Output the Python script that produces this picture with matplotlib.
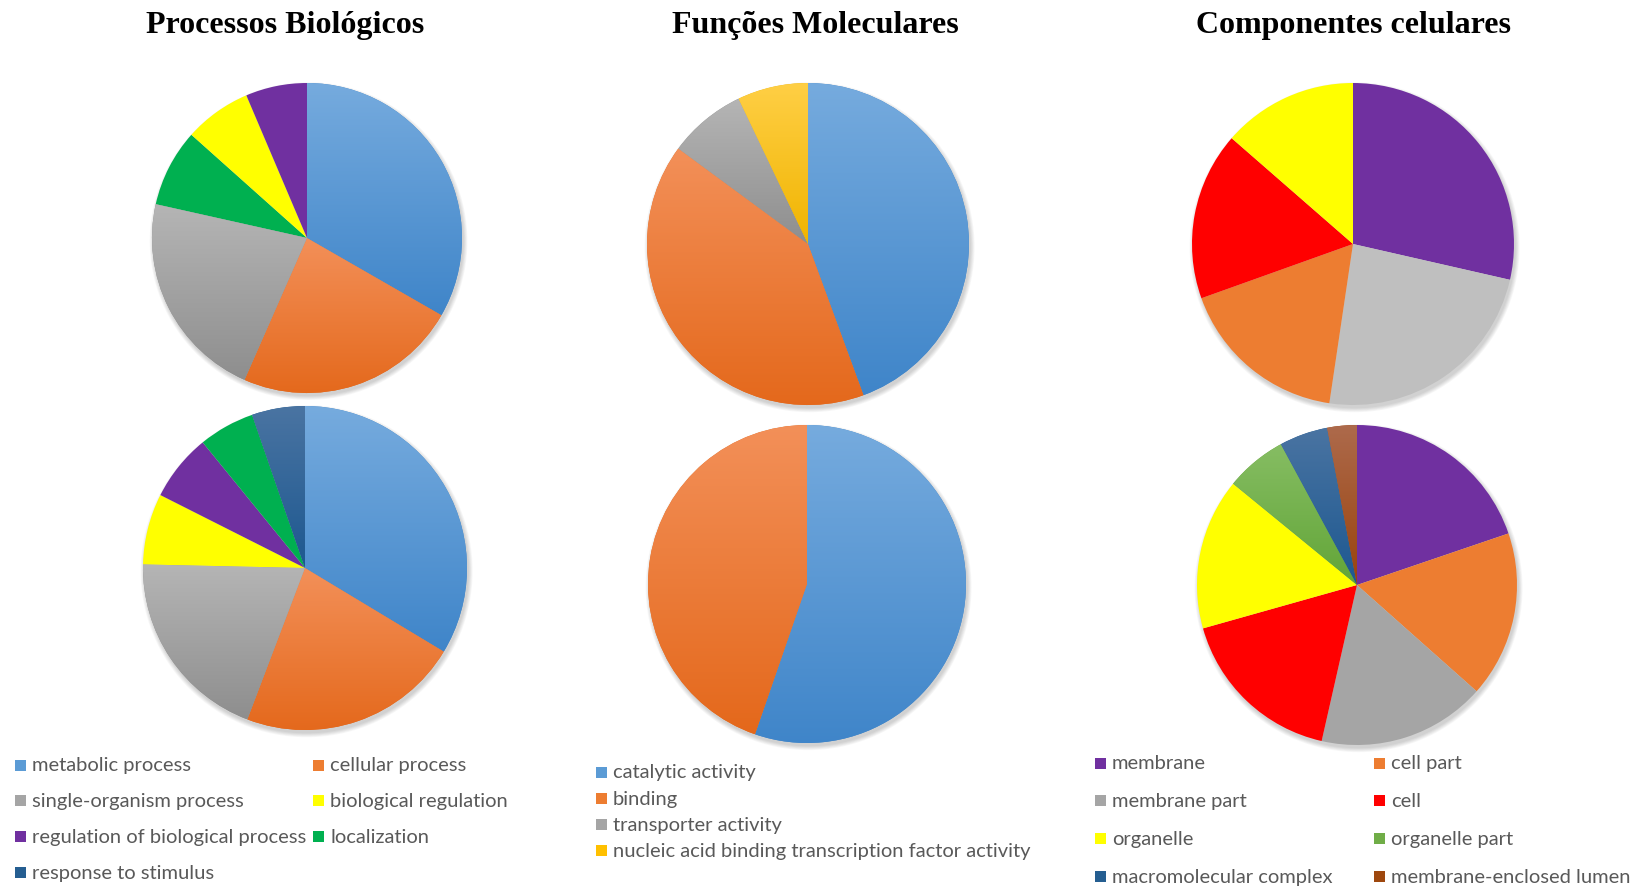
import numpy as np
import matplotlib.pyplot as plt
from matplotlib.patches import Rectangle, Circle
from matplotlib.colors import LinearSegmentedColormap

W, H = 1646, 887

# --- data (percent of annotated transcripts, clockwise from 12 o'clock) ---
bp_top_labels = ['metabolic process', 'cellular process', 'single-organism process',
                 'localization', 'biological regulation', 'regulation of biological process']
bp_top_values = [33.3, 23.3, 21.9, 8.1, 7.0, 6.4]

bp_bot_labels = ['metabolic process', 'cellular process', 'single-organism process',
                 'biological regulation', 'regulation of biological process',
                 'localization', 'response to stimulus']
bp_bot_values = [33.7, 22.2, 19.6, 7.1, 6.7, 5.6, 5.3]

mf_top_labels = ['catalytic activity', 'binding', 'transporter activity',
                 'nucleic acid binding transcription factor activity']
mf_top_values = [44.4, 40.7, 7.8, 7.1]

mf_bot_labels = ['catalytic activity', 'binding']
mf_bot_values = [55.3, 44.7]

cc_top_labels = ['membrane', 'membrane part', 'cell part', 'cell', 'organelle']
cc_top_values = [28.6, 23.8, 17.2, 16.9, 13.6]

cc_bot_labels = ['membrane', 'cell part', 'membrane part', 'cell', 'organelle',
                 'organelle part', 'macromolecular complex', 'membrane-enclosed lumen']
cc_bot_values = [19.8, 16.8, 17.0, 17.1, 15.3, 6.2, 4.9, 3.0]

bp_legend = ['metabolic process', 'cellular process', 'single-organism process',
             'biological regulation', 'regulation of biological process', 'localization',
             'response to stimulus']
mf_legend = ['catalytic activity', 'binding', 'transporter activity',
             'nucleic acid binding transcription factor activity']
cc_legend = ['membrane', 'cell part', 'membrane part', 'cell', 'organelle',
             'organelle part', 'macromolecular complex', 'membrane-enclosed lumen']

titles = ['Processos Biológicos', 'Funções Moleculares', 'Componentes celulares']

# fills: a tuple means a top->bottom gradient, a string a flat colour
fills = {
    'metabolic process': ('#76abde', '#3f85c9'),
    'cellular process': ('#f39059', '#e4681b'),
    'single-organism process': ('#b5b5b5', '#8e8e8e'),
    'biological regulation': '#ffff00',
    'regulation of biological process': '#7030a0',
    'localization': '#00b050',
    'response to stimulus': ('#4a74a2', '#1d5890'),
    'catalytic activity': ('#76abde', '#3f85c9'),
    'binding': ('#f39059', '#e4681b'),
    'transporter activity': ('#b5b5b5', '#8e8e8e'),
    'nucleic acid binding transcription factor activity': ('#ffcf45', '#f0b400'),
    'membrane': '#7030a0',
    'cell part': '#ed7d31',
    'cell': '#ff0000',
    'organelle': '#ffff00',
    'organelle part': ('#86bd63', '#62a537'),
    'macromolecular complex': ('#4a74a2', '#1d5890'),
    'membrane-enclosed lumen': ('#ad6a4c', '#9a430c'),
}
legend_colors = {
    'metabolic process': '#5b9bd5', 'cellular process': '#ed7d31',
    'single-organism process': '#a5a5a5', 'biological regulation': '#ffff00',
    'regulation of biological process': '#7030a0', 'localization': '#00b050',
    'response to stimulus': '#255e91',
    'catalytic activity': '#5b9bd5', 'binding': '#ed7d31',
    'transporter activity': '#a5a5a5',
    'nucleic acid binding transcription factor activity': '#ffc000',
    'membrane': '#7030a0', 'cell part': '#ed7d31', 'membrane part': '#a5a5a5',
    'cell': '#ff0000', 'organelle': '#ffff00', 'organelle part': '#70ad47',
    'macromolecular complex': '#255e91', 'membrane-enclosed lumen': '#9e480e',
}

fig = plt.figure(figsize=(W / 100, H / 100), dpi=100)
fig.patch.set_facecolor('white')


def shade(ax, wedge, top, bottom):
    verts = wedge.get_path().vertices
    x0, y0 = verts.min(axis=0)
    x1, y1 = verts.max(axis=0)
    cmap = LinearSegmentedColormap.from_list('g', [bottom, top])
    grad = np.linspace(0, 1, 256).reshape(-1, 1)
    im = ax.imshow(grad, cmap=cmap, extent=[x0, x1, y0, y1], origin='lower',
                   aspect='auto', zorder=wedge.get_zorder() + 0.1, interpolation='bilinear')
    im.set_clip_path(wedge)


def draw_pie(cx, cy, r, labels, values, gray='#a5a5a5'):
    pad = 1.12
    ax = fig.add_axes([(cx - r * pad) / W, 1 - (cy + r * pad) / H,
                       2 * r * pad / W, 2 * r * pad / H])
    # soft drop shadow
    for i in range(6):
        ax.add_patch(Circle((0.01, -0.02), 1.0 + 0.005 * i, color='k',
                            alpha=0.03, lw=0, zorder=0))
    cols = []
    for lab in labels:
        f = fills.get(lab, gray)
        cols.append(f if isinstance(f, str) else f[1])
    wedges, _ = ax.pie(values, colors=cols, startangle=90, counterclock=False,
                       radius=1, wedgeprops=dict(linewidth=0))
    for w, lab in zip(wedges, labels):
        f = fills.get(lab, gray)
        if not isinstance(f, str):
            shade(ax, w, f[0], f[1])
    ax.set_xlim(-pad, pad)
    ax.set_ylim(-pad, pad)
    ax.set_aspect('auto')
    ax.axis('off')


def draw_legend(items, x0, y0, col_dx, row_dy, ncol):
    for i, lab in enumerate(items):
        row, col = divmod(i, ncol)
        x = x0 + col * col_dx
        y = y0 + row * row_dy
        s = 11
        fig.patches.append(Rectangle(((x - s / 2) / W, 1 - (y + s / 2) / H), s / W, s / H,
                                     transform=fig.transFigure, facecolor=legend_colors[lab],
                                     edgecolor='none'))
        fig.text((x + 12) / W, 1 - y / H, lab, ha='left', va='center', fontsize=14.5,
                 color='#595959', family='Lato')


for x, t in zip([285, 815, 1353], titles):
    fig.text(x / W, 1 - 25 / H, t, ha='center', va='center', fontsize=23,
             fontweight='bold', family='Liberation Serif')

draw_pie(307, 239, 155, bp_top_labels, bp_top_values)
draw_pie(305, 569, 162, bp_bot_labels, bp_bot_values)
draw_pie(808, 245, 161, mf_top_labels, mf_top_values)
draw_pie(807, 585, 159, mf_bot_labels, mf_bot_values)
draw_pie(1353, 245, 161, cc_top_labels, cc_top_values, gray='#bfbfbf')
draw_pie(1357, 586, 160, cc_bot_labels, cc_bot_values)

draw_legend(bp_legend, 20, 766, 298, 35.7, 2)
draw_legend(mf_legend, 601, 773, 0, 26.2, 1)
draw_legend(cc_legend, 1100, 764, 279, 37.7, 2)

fig.savefig('out.png', dpi=100, facecolor='white')
